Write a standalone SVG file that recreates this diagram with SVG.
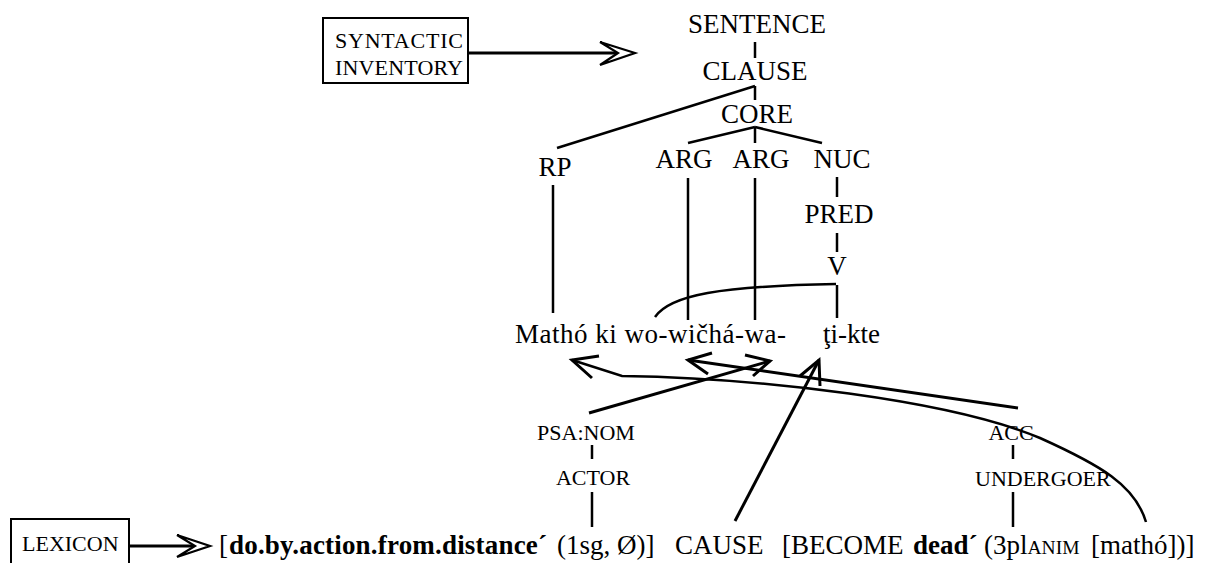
<svg xmlns="http://www.w3.org/2000/svg" width="1205" height="563" viewBox="0 0 1205 563">
<style>
.t{font-family:"Liberation Serif","Times New Roman",serif;font-size:27px;fill:#000}
.s{font-family:"Liberation Serif","Times New Roman",serif;font-size:22px;fill:#000}
.b{font-weight:bold}
.m{text-anchor:middle}
.ln{stroke:#000;stroke-width:2.5;fill:none}
.ar{stroke:#000;stroke-width:3;fill:none;stroke-linejoin:miter}
.bx{stroke:#000;stroke-width:2;fill:#fff}
.hd{stroke:#000;stroke-width:2.2;fill:#fff;stroke-linejoin:miter}
</style>
<rect width="1205" height="563" fill="#fff"/>
<g id="syntactic-inventory">
<rect class="bx" x="323" y="18" width="145" height="65"/>
<text class="s" x="335" y="48" textLength="128">SYNTACTIC</text>
<text class="s" x="335" y="75" textLength="128">INVENTORY</text>
</g>
<g id="lexicon">
<rect class="bx" x="11" y="519" width="118" height="55"/>
<text class="s" x="22" y="551" font-size="20.5">LEXICON</text>
</g>
<g id="sentence"><text class="t m" x="757" y="33">SENTENCE</text></g>
<g id="clause"><text class="t m" x="755" y="80">CLAUSE</text></g>
<g id="core"><text class="t m" x="757" y="123">CORE</text></g>
<g id="rp"><text class="t m" x="555" y="176">RP</text></g>
<g id="arg1"><text class="t m" x="684" y="168">ARG</text></g>
<g id="arg2"><text class="t m" x="761" y="168">ARG</text></g>
<g id="nuc"><text class="t m" x="842" y="168">NUC</text></g>
<g id="pred"><text class="t m" x="839" y="223">PRED</text></g>
<g id="v"><text class="t m" x="837" y="275">V</text></g>
<g id="words">
<text class="t" x="515" y="343" textLength="271">Mathó ki wo-wičhá-wa-</text>
<text class="t" x="823" y="343">ţi-kte</text>
</g>
<g id="psa-nom"><text class="s m" x="586" y="440">PSA:NOM</text></g>
<g id="actor"><text class="s m" x="593" y="485">ACTOR</text></g>
<g id="acc"><text class="s m" x="1011" y="440">ACC</text></g>
<g id="undergoer"><text class="s" x="975" y="486">UNDERGOER</text></g>
<g id="logical-structure">
<text class="t" y="554" font-size="27.5"><tspan x="219">[</tspan><tspan class="b" x="229" textLength="318">do.by.action.from.distance´</tspan><tspan x="557">(1sg, Ø)]</tspan><tspan x="675">CAUSE</tspan><tspan x="782">[BECOME</tspan><tspan class="b" x="913">dead´</tspan><tspan x="984">(3pl</tspan><tspan font-size="19.5">ANIM</tspan><tspan x="1091">[mathó])]</tspan></text>
</g>
<g id="connectors">
<line class="ar" x1="468" y1="53" x2="618" y2="53"/>
<polygon class="hd" points="600,42 635,53 600,65 618,53"/>
<line class="ar" x1="129" y1="546" x2="195" y2="546"/>
<polygon class="hd" points="177,535 210,546 177,557 195,546"/>
<line class="ln" x1="755" y1="42" x2="755" y2="58"/>
<line class="ln" x1="755" y1="86" x2="755" y2="100"/>
<line class="ln" x1="755" y1="86" x2="557" y2="148"/>
<line class="ln" x1="755" y1="127" x2="688" y2="143"/>
<line class="ln" x1="755" y1="127" x2="755" y2="143"/>
<line class="ln" x1="755" y1="127" x2="822" y2="143"/>
<line class="ln" x1="553" y1="185" x2="553" y2="313"/>
<line class="ln" x1="688" y1="178" x2="688" y2="320"/>
<line class="ln" x1="755" y1="178" x2="755" y2="320"/>
<line class="ln" x1="837" y1="177" x2="837" y2="197"/>
<line class="ln" x1="837" y1="233" x2="837" y2="252"/>
<line class="ln" x1="837" y1="285" x2="837" y2="318"/>
<path class="ln" d="M655,317 C670,295 720,286 836,284"/>
<line class="ln" x1="592" y1="445" x2="592" y2="459"/>
<line class="ln" x1="592" y1="492" x2="592" y2="527"/>
<line class="ln" x1="1013" y1="445" x2="1013" y2="459"/>
<line class="ln" x1="1013" y1="492" x2="1013" y2="527"/>
<polyline class="ar" points="599,356 572,360 592,378"/>
<path class="ln" d="M572,360 L622,376 C760,378 950,400 1040,438 C1100,465 1135,485 1146,522"/>
<line class="ar" x1="688" y1="360" x2="1018" y2="408"/>
<polyline class="ar" points="712,353 688,360 708,374"/>
<line class="ar" x1="589" y1="413" x2="770" y2="361"/>
<polyline class="ar" points="745,355 770,361 753,376"/>
<line class="ar" x1="735" y1="521" x2="819" y2="360"/>
<polyline class="ar" points="800,376 819,360 820,386"/>
</g>
</svg>
